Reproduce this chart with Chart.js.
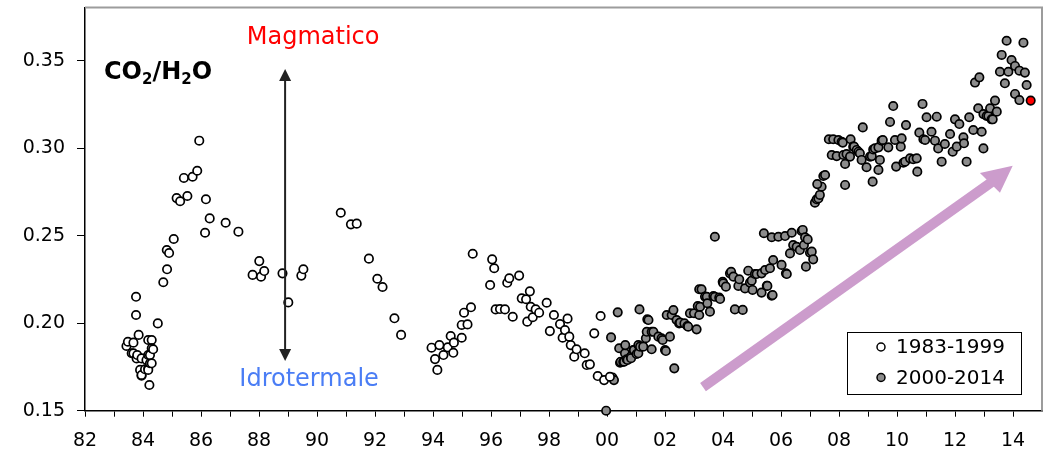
<!DOCTYPE html>
<html>
<head>
<meta charset="utf-8">
<script src="https://cdn.jsdelivr.net/npm/chart.js@4.4.0/dist/chart.umd.min.js"></script>
<style>
html,body{margin:0;padding:0;background:#fff;overflow:hidden}
#wrap{width:1049px;height:451px}
</style>
</head>
<body>
<div id="wrap"><canvas id="c" width="1049" height="451"></canvas></div>
<script>
// ---- Data ----
const years83 = [1983.43,1983.48,1983.67,1983.61,1983.67,1983.76,1983.76,1983.78,1983.85,1983.80,1983.95,1983.90,1983.95,1983.95,
  1984.07,1984.12,1984.18,1984.18,1984.18,1984.18,1984.22,1984.24,1984.24,1984.30,1984.30,1984.30,1984.35,1984.51,1984.70,1984.83,
  1984.82,1984.90,1985.06,1985.16,1985.28,1985.41,1985.53,1985.71,1985.87,1985.94,1986.17,1986.14,1986.30,1986.85,1987.29,1987.78,
  1988.01,1988.07,1988.18,1988.81,1989.01,1989.46,1989.53,1990.82,1991.17,1991.37,1991.79,1992.08,1992.26,1992.67,1992.90,1993.95,
  1994.07,1994.15,1994.22,1994.36,1994.51,1994.61,1994.70,1994.72,1994.99,1994.99,1995.07,1995.19,1995.31,1995.37,1995.97,1996.04,
  1996.11,1996.16,1996.31,1996.48,1996.56,1996.63,1996.75,1996.97,1997.06,1997.21,1997.25,1997.34,1997.37,1997.44,1997.54,1997.66,
  1997.92,1998.03,1998.17,1998.38,1998.47,1998.55,1998.64,1998.70,1998.75,1998.87,1998.95,1999.23,1999.30,1999.41,1999.56,1999.68,
  1999.78,1999.90,2000.10];
const ratio83 = [0.1870,0.1894,0.1889,0.1828,0.1828,0.2151,0.2047,0.1799,0.1933,0.1818,0.1799,0.1733,0.1700,0.1704,
  0.1737,0.1790,0.1742,0.1818,0.1904,0.1733,0.1647,0.1771,0.1818,0.1904,0.1857,0.1771,0.1851,0.1999,0.2234,0.2308,
  0.2418,0.2401,0.2481,0.2715,0.2697,0.2830,0.2727,0.2837,0.2871,0.3043,0.2708,0.2517,0.2599,0.2574,0.2523,0.2276,
  0.2355,0.2266,0.2298,0.2285,0.2119,0.2272,0.2308,0.2631,0.2565,0.2569,0.2369,0.2254,0.2207,0.2028,0.1933,0.1860,
  0.1795,0.1733,0.1875,0.1818,0.1862,0.1927,0.1831,0.1889,0.1917,0.1990,0.2060,0.1993,0.2091,0.2397,0.2218,0.2365,
  0.2314,0.2079,0.2081,0.2079,0.2231,0.2257,0.2037,0.2272,0.2142,0.2137,0.2009,0.2182,0.2094,0.2034,0.2079,0.2060,
  0.2117,0.1955,0.2047,0.1995,0.1917,0.1961,0.2026,0.1923,0.1875,0.1809,0.1851,0.1828,0.1761,0.1765,0.1942,0.1698,
  0.2041,0.1675,0.1694];

const years00 = [1999.97,2000.14,2000.19,2000.24,2000.37,2000.42,2000.45,2000.47,2000.56,2000.59,2000.62,2000.63,2000.68,2000.71,
  2000.82,2000.83,2000.91,2000.93,2001.02,2001.08,2001.08,2001.12,2001.14,2001.25,2001.34,2001.37,2001.39,2001.43,2001.54,2001.54,
  2001.60,2001.77,2001.88,2001.92,2002.00,2002.03,2002.06,2002.17,2002.23,2002.29,2002.32,2002.40,2002.49,2002.52,2002.67,2002.77,
  2002.80,2002.86,2003.00,2003.09,2003.13,2003.18,2003.18,2003.21,2003.26,2003.38,2003.44,2003.46,2003.55,2003.67,2003.72,2003.72,
  2003.87,2003.90,2003.99,2004.01,2004.10,2004.24,2004.28,2004.36,2004.41,2004.53,2004.56,2004.68,2004.76,2004.87,2004.93,2004.99,
  2005.02,2005.10,2005.16,2005.33,2005.33,2005.41,2005.45,2005.51,2005.53,2005.62,2005.68,2005.68,2005.71,2005.73,2005.91,2006.02,
  2006.14,2006.17,2006.20,2006.31,2006.37,2006.42,2006.54,2006.65,2006.71,2006.75,2006.79,2006.83,2006.86,2006.92,2007.00,2007.06,
  2007.11,2007.17,2007.23,2007.29,2007.34,2007.40,2007.25,2007.46,2007.52,2007.65,2007.75,2007.80,2007.92,2007.98,2008.09,2008.13,
  2008.15,2008.21,2008.21,2008.26,2008.38,2008.40,2008.49,2008.52,2008.61,2008.67,2008.72,2008.78,2008.82,2008.95,2009.07,2009.13,
  2009.16,2009.18,2009.24,2009.36,2009.36,2009.41,2009.47,2009.51,2009.70,2009.76,2009.87,2009.93,2009.97,2010.13,2010.16,2010.22,
  2010.28,2010.31,2010.45,2010.56,2010.68,2010.70,2010.77,2010.88,2010.91,2011.02,2010.97,2011.19,2011.31,2011.37,2011.42,2011.54,
  2011.65,2011.83,2011.92,2012.00,2012.06,2012.15,2012.29,2012.31,2012.40,2012.49,2012.63,2012.69,2012.80,2012.84,2012.92,2012.98,
  2012.98,2013.09,2013.15,2013.21,2013.26,2013.30,2013.38,2013.44,2013.55,2013.61,2013.72,2013.78,2013.84,2013.95,2014.07,2014.07,
  2014.22,2014.22,2014.36,2014.41,2014.47];
const ratio00 = [0.1500,0.1919,0.1690,0.1675,0.2062,0.1857,0.1774,0.1780,0.1780,0.1780,0.1828,0.1875,0.1794,0.1790,
  0.1809,0.1800,0.1847,0.1847,0.1824,0.1875,0.1828,0.2079,0.1866,0.1866,0.1914,0.1951,0.2022,0.2018,0.1951,0.1851,
  0.1951,0.1923,0.1914,0.1904,0.1847,0.1841,0.2047,0.1923,0.2047,0.2075,0.1742,0.2018,0.1999,0.2003,0.1999,0.1984,
  0.1980,0.2057,0.2057,0.1965,0.2098,0.2194,0.2047,0.2094,0.2194,0.2152,0.2151,0.2114,0.2066,0.2155,0.2494,0.2151,
  0.2146,0.2138,0.2237,0.2228,0.2209,0.2285,0.2294,0.2266,0.2079,0.2213,0.2251,0.2076,0.2199,0.2300,0.2232,0.2243,
  0.2190,0.2281,0.2281,0.2285,0.2175,0.2514,0.2304,0.2214,0.2213,0.2314,0.2491,0.2157,0.2161,0.2361,0.2494,0.2333,
  0.2498,0.2285,0.2281,0.2399,0.2517,0.2447,0.2437,0.2418,0.2527,0.2533,0.2447,0.2491,0.2323,0.2479,0.2403,0.2409,
  0.2365,0.2689,0.2708,0.2713,0.2733,0.2780,0.2795,0.2841,0.2847,0.3051,0.2961,0.3051,0.2955,0.3047,0.3037,0.3032,
  0.2961,0.2790,0.2910,0.2967,0.2952,0.3051,0.3009,0.3009,0.2990,0.2980,0.2971,0.2933,0.3119,0.2891,0.2952,0.2955,
  0.2809,0.2993,0.2999,0.2876,0.3005,0.2933,0.3043,0.3047,0.3005,0.3150,0.3241,0.3047,0.2895,0.3009,0.3056,0.2917,
  0.2923,0.3132,0.2942,0.2937,0.2942,0.2866,0.3089,0.3253,0.3051,0.3177,0.3047,0.3094,0.3043,0.3180,0.2999,0.2923,
  0.3024,0.3081,0.2980,0.3165,0.3009,0.3138,0.3062,0.3028,0.2923,0.3177,0.3104,0.3375,0.3228,0.3405,0.3094,0.2999,
  0.3195,0.3184,0.3184,0.3228,0.3165,0.3165,0.3272,0.3209,0.3437,0.3533,0.3371,0.3614,0.3437,0.3504,0.3470,0.3310,
  0.3443,0.3275,0.3603,0.3432,0.3361];

const yearsLatest = [2014.61];
const ratioLatest = [0.3272];

const xTickYears = [1982,1983,1984,1985,1986,1987,1988,1989,1990,1991,1992,1993,1994,1995,1996,1997,1998,1999,
  2000,2001,2002,2003,2004,2005,2006,2007,2008,2009,2010,2011,2012,2013,2014];
const xLabelYears = [1982,1984,1986,1988,1990,1992,1994,1996,1998,2000,2002,2004,2006,2008,2010,2012,2014];
const yTickValues = [0.15,0.20,0.25,0.30,0.35];
const seriesLabels = ['1983-1999','2000-2014'];

// ---- Chart ----
const toPts = (xs, ys) => xs.map((x, i) => ({x: x, y: ys[i]}));
const FONT = 'DejaVu Sans';

const annot = {
  id: 'annot',
  beforeDatasetsDraw(chart) {
    const {ctx, scales: {x, y}} = chart;
    // pink trend arrow
    ctx.save();
    const sx = x.getPixelForValue(2003.31), sy = y.getPixelForValue(0.1635);
    const tx = x.getPixelForValue(2013.99), ty = y.getPixelForValue(0.2900);
    const c1x = x.getPixelForValue(2012.86), c1y = y.getPixelForValue(0.2858);
    const c2x = x.getPixelForValue(2013.55), c2y = y.getPixelForValue(0.2746);
    const bx = (c1x + c2x) / 2 + 2, by = (c1y + c2y) / 2 - 1;
    ctx.strokeStyle = '#cc9ccc';
    ctx.fillStyle = '#cc9ccc';
    ctx.lineWidth = 10;
    ctx.lineCap = 'butt';
    ctx.beginPath(); ctx.moveTo(sx, sy); ctx.lineTo(bx, by); ctx.stroke();
    ctx.beginPath(); ctx.moveTo(tx, ty); ctx.lineTo(c1x, c1y); ctx.lineTo(c2x, c2y); ctx.closePath(); ctx.fill();
    ctx.restore();
  },
  afterDraw(chart) {
    const {ctx, chartArea: a, scales: {x, y}} = chart;
    ctx.save();
    // frame top/right
    ctx.strokeStyle = '#9c9c9c';
    ctx.lineWidth = 2;
    ctx.beginPath();
    ctx.moveTo(a.left, a.top); ctx.lineTo(a.right, a.top); ctx.lineTo(a.right, a.bottom);
    ctx.stroke();

    // vertical double arrow
    const ax = x.getPixelForValue(1988.9);
    const top = y.getPixelForValue(0.3453), bot = y.getPixelForValue(0.1784);
    ctx.strokeStyle = '#222'; ctx.fillStyle = '#222'; ctx.lineWidth = 2;
    ctx.beginPath(); ctx.moveTo(ax, top + 8); ctx.lineTo(ax, bot - 8); ctx.stroke();
    ctx.beginPath(); ctx.moveTo(ax, top); ctx.lineTo(ax - 6, top + 12); ctx.lineTo(ax + 6, top + 12); ctx.closePath(); ctx.fill();
    ctx.beginPath(); ctx.moveTo(ax, bot); ctx.lineTo(ax - 6, bot - 12); ctx.lineTo(ax + 6, bot - 12); ctx.closePath(); ctx.fill();

    // labels
    ctx.textBaseline = 'alphabetic';
    ctx.textAlign = 'center';
    ctx.font = '24px "' + FONT + '"';
    ctx.fillStyle = '#ff0000';
    ctx.fillText('Magmatico', ax + 28, 44);
    ctx.fillStyle = '#4a7df5';
    ctx.fillText('Idrotermale', ax + 24, 386);

    // CO2/H2O
    ctx.textAlign = 'left';
    ctx.fillStyle = '#000';
    let px = 104;
    const big = 'bold 24px "' + FONT + '"', small = 'bold 15px "' + FONT + '"';
    const parts = [['CO', big, 79], ['2', small, 84], ['/H', big, 79], ['2', small, 84], ['O', big, 79]];
    parts.forEach(p => { ctx.font = p[1]; ctx.fillText(p[0], px, p[2]); px += ctx.measureText(p[0]).width; });

    // legend
    ctx.strokeStyle = '#000'; ctx.lineWidth = 1;
    ctx.strokeRect(847.5, 332.5, 174, 62);
    ctx.font = '20px "' + FONT + '"';
    ctx.textBaseline = 'middle';
    const items = [[seriesLabels[0], '#ffffff', 347], [seriesLabels[1], '#8c8c8c', 377.5]];
    items.forEach(it => {
      ctx.beginPath(); ctx.arc(881, it[2], 4, 0, Math.PI * 2);
      ctx.fillStyle = it[1]; ctx.fill();
      ctx.lineWidth = 1.5; ctx.strokeStyle = '#000'; ctx.stroke();
      ctx.fillStyle = '#000';
      ctx.fillText(it[0], 896, it[2] + 1);
    });
    ctx.restore();
  }
};

const common = {pointRadius: 4.2, pointBorderWidth: 1.7, pointBorderColor: '#000', showLine: false, clip: false, pointHoverRadius: 4.2};

new Chart(document.getElementById('c').getContext('2d'), {
  type: 'scatter',
  data: {
    datasets: [
      Object.assign({label: seriesLabels[0], data: toPts(years83, ratio83), pointBackgroundColor: '#ffffff'}, common),
      Object.assign({label: seriesLabels[1], data: toPts(years00, ratio00), pointBackgroundColor: '#8c8c8c'}, common),
      Object.assign({label: 'ultimo', data: toPts(yearsLatest, ratioLatest), pointBackgroundColor: '#ff0000'}, common)
    ]
  },
  options: {
    responsive: false,
    animation: false,
    devicePixelRatio: 1,
    layout: {padding: {left: 0, right: 7, top: 7.5, bottom: 0}},
    plugins: {legend: {display: false}, tooltip: {enabled: false}},
    scales: {
      x: {
        type: 'linear', min: 1982, max: 2015,
        afterBuildTicks: s => { s.ticks = xTickYears.map(v => ({value: v})); },
        afterFit: s => { s.height = 40.3; s.paddingLeft = 0; },
        ticks: {
          autoSkip: false, maxRotation: 0, minRotation: 0, padding: 13, color: '#000',
          font: {family: FONT, size: 19},
          callback: v => xLabelYears.includes(v) ? String(v % 100).padStart(2, '0') : ''
        },
        grid: {drawOnChartArea: false, drawTicks: true, tickLength: 6, color: '#000', lineWidth: 1},
        border: {color: '#000', width: 1.5}
      },
      y: {
        type: 'linear', min: 0.15, max: 0.3804,
        afterBuildTicks: s => { s.ticks = yTickValues.map(v => ({value: v})); },
        afterFit: s => { s.width = 85; s.paddingTop = 0; s.paddingBottom = 0; },
        ticks: {
          padding: 12, color: '#000', font: {family: FONT, size: 19},
          callback: v => v.toFixed(2)
        },
        grid: {drawOnChartArea: false, drawTicks: true, tickLength: 8, color: '#000', lineWidth: 1},
        border: {color: '#000', width: 1.5}
      }
    }
  },
  plugins: [annot]
});
</script>
</body>
</html>
